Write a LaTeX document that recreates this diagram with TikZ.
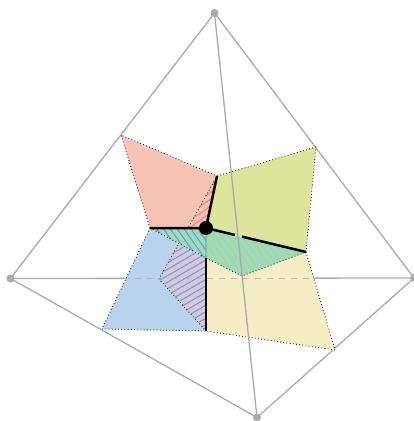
\documentclass[tikz,border=0pt]{standalone}
\usetikzlibrary{calc}
\definecolor{edgegrey}{HTML}{ABABAB}
\definecolor{salmonfill}{HTML}{F6C3B4}
\definecolor{limefill}{HTML}{DDE49B}
\definecolor{bluefill}{HTML}{B9D3EC}
\definecolor{creamfill}{HTML}{F5EDC3}
\definecolor{tealfill}{HTML}{92D6BA}
\definecolor{hatchsalmon}{HTML}{FF7A78}
\definecolor{hatchpink}{HTML}{E5708C}
\definecolor{hatchblue}{HTML}{6A9AC6}
\definecolor{hatchgreen}{HTML}{ABD880}
\tikzset{
  vert/.style={circle,fill=edgegrey,inner sep=0pt,minimum size=8pt},
  edge/.style={edgegrey,line width=1.3pt},
  face/.style={draw=black,line width=.8pt,dash pattern=on .8pt off 2.4pt},
  heavy/.style={line width=2.5pt,black},
  hatchline/.style={line width=1pt,#1},
}
\newcommand{\hatcharea}[4]{%
  \begin{scope}
    \clip #1;
    \foreach \k in {-16,...,16}
      \draw[hatchline=#3,shift={(#4)},rotate=#2] (-110,\k*5.6) -- (110,\k*5.6);
  \end{scope}}
\begin{document}
\begin{tikzpicture}[x=1pt,y=-1pt]
\useasboundingbox (0,0) rectangle (414,421);
\node[vert] (T) at (214.5,13) {};
\node[vert] (L) at (10.5,278.5) {};
\node[vert] (R) at (414,278) {};
\node[vert] (B) at (257,417.5) {};
\coordinate (o) at (206,228);
\coordinate (s1) at (121,135);
\coordinate (n) at (217,176);
\coordinate (w) at (150,228);
\coordinate (g1) at (316,147);
\coordinate (e) at (306,252);
\coordinate (m) at (242,276);
\coordinate (d) at (206,258);
\coordinate (b1) at (102,329);
\coordinate (b2) at (206,331);
\coordinate (y1) at (335,350);
\draw[edge] (L.center) -- (R.center);
\draw[edge] (T.center) -- (L.center);
\draw[edge] (T.center) -- (R.center);
\draw[edge] (L.center) -- (B.center);
\draw[edge] (B.center) -- (R.center);
% faces
\path[fill=salmonfill] (s1) -- (n) -- (o) -- (w) -- cycle;
\hatcharea{(n) -- (o) -- (188,228) -- cycle}{35}{hatchsalmon}{205,210}
\draw[face] (w) -- (s1) -- (n) -- (188,228);
\path[fill=limefill] (n) -- (g1) -- (e) -- (o) -- cycle;
\draw[face] (n) -- (g1) -- (e);
\path[fill=bluefill] (w) -- (d) -- (b2) -- (b1) -- cycle;
\hatcharea{(178,245) -- (d) -- (b2) -- (159,279) -- cycle}{30}{hatchpink}{185,285}
\draw[face] (w) -- (b1) -- (b2) (178,245) -- (159,279) -- (b2);
\path[fill=creamfill] (d) -- (m) -- (e) -- (y1) -- (b2) -- cycle;
\draw[face] (e) -- (y1) -- (b2);
\draw[edgegrey,opacity=.7,dash pattern=on 6pt off 6pt,line width=1.4pt] (123,278.5) -- (315,278.5);
\draw[heavy] (o) -- (b2);
\path[fill=tealfill,fill opacity=.9] (w) -- (o) -- (e) -- (m) -- (d) -- cycle;
\hatcharea{(w) -- (o) -- (d) -- cycle}{-55}{hatchblue}{185,240}
\hatcharea{(o) -- (e) -- (m) -- (d) -- cycle}{-55}{hatchgreen}{245,250}
\draw[face] (w) -- (d) -- (m) -- (e);
\draw[heavy] (w) -- (o) (n) -- (o);
\draw[heavy] (o) -- ($(o)!.29!(e)$) ($(o)!.36!(e)$) -- (e);
\draw[edge] (T.center) -- (B.center);
\fill[black] (o) circle (7pt);
\end{tikzpicture}
\end{document}
